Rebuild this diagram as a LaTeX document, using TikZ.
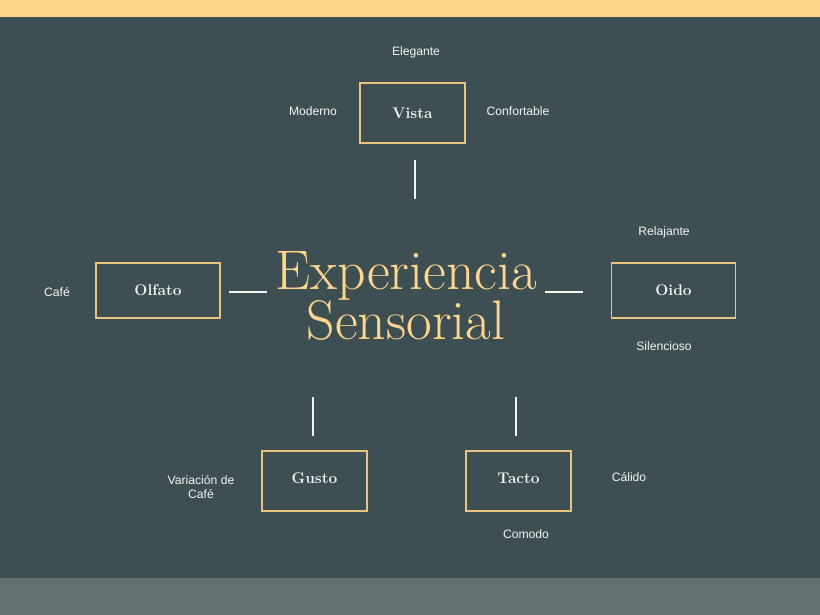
\documentclass[tikz,border=0pt]{standalone}
\usepackage{fontspec}
\setsansfont{Liberation Sans}
\definecolor{fondo}{HTML}{3E4F54}
\definecolor{franja}{HTML}{FFD68A}
\definecolor{pie}{HTML}{637170}
\definecolor{marco}{HTML}{E8C47E}
\definecolor{blanco}{HTML}{F4F4EF}

\begin{document}
\begin{tikzpicture}[x=1bp, y=-1bp,
  sentido/.style={draw=marco, line width=1.3bp, minimum width=105bp, minimum height=60bp, text=blanco, font=\fontsize{15.5}{18}\selectfont\bfseries},
  rasgo/.style={text=blanco, font=\sffamily\fontsize{12.2}{14.5}\selectfont, align=center},
  enlace/.style={draw=blanco, line width=1.5bp}]
\fill[fondo] (0,0) rectangle (820,615);
\fill[franja] (0,0) rectangle (820,17);
\fill[pie] (0,578) rectangle (820,615);

\node[text=franja, align=center, inner sep=0pt, font=\fontsize{56}{50}\selectfont] (T)at(406, 296) {Experiencia\\Sensorial};

\node[sentido] (V)at(412.5, 113) {Vista};
\node[sentido, minimum width=124bp, minimum height=55bp] (O)at(158, 290.5) {Olfato};
\node[sentido, minimum width=124bp, minimum height=55bp] (D)at(673.5, 290.5) {Oido};
\node[sentido, text height=11bp, text depth=6bp] (G)at(314.5, 481) {Gusto};
\node[sentido, text height=11bp, text depth=6bp] (C)at(518.5, 481) {Tacto};

\node[rasgo] (v1)at(416, 52) {Elegante};
\node[rasgo] (v2)at(313, 111) {Moderno};
\node[rasgo] (v3)at(518, 111) {Confortable};
\node[rasgo] (o1)at(57, 292) {Café};
\node[rasgo] (d1)at(664, 232) {Relajante};
\node[rasgo] (d2)at(664, 346) {Silencioso};
\node[rasgo] (g1)at(201, 487) {Variación de\\Café};
\node[rasgo] (c1)at(629, 477) {Cálido};
\node[rasgo] (c2)at(526, 534) {Comodo};

\coordinate (a1)at(415, 160); \coordinate (a2)at(415, 199);
\coordinate (b1)at(229, 292); \coordinate (b2)at(267, 292);
\coordinate (b3)at(545, 292); \coordinate (b4)at(583, 292);
\coordinate (c3)at(313, 397); \coordinate (c4)at(313, 436);
\coordinate (c5)at(516, 397); \coordinate (c6)at(516, 436);
\draw[enlace] (a1) -- (a2);
\draw[enlace] (b1) -- (b2);
\draw[enlace] (b3) -- (b4);
\draw[enlace] (c3) -- (c4);
\draw[enlace] (c5) -- (c6);
\end{tikzpicture}
\end{document}
